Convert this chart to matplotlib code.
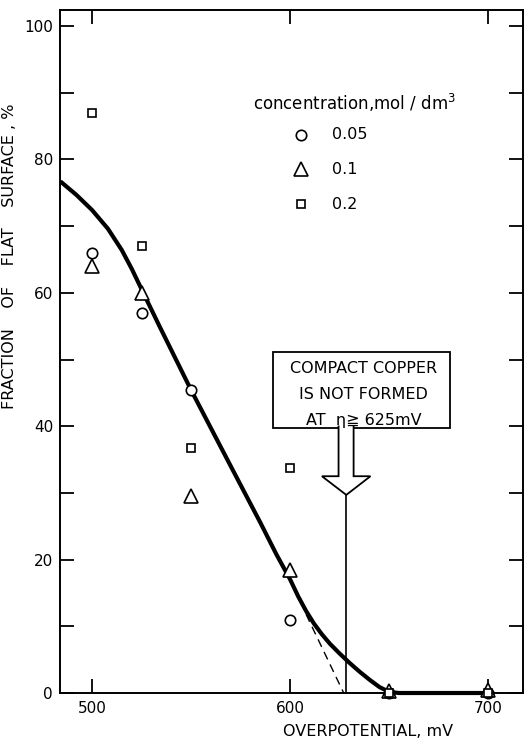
import matplotlib
matplotlib.use("Agg")
import matplotlib.pyplot as plt
from matplotlib.patches import Rectangle, Polygon

# ---- data ----
overpotential = [500, 525, 550, 600, 650, 700]
frac_005 = [66, 57, 45.5, 11, 0, 0]
frac_01 = [64, 60, 29.5, 18.5, 0.3, 0.5]
frac_02 = [87, 67, 36.7, 33.7, 0, 0]

curve_x = [484, 492, 500, 508, 515, 520, 526, 534, 550, 570, 585, 593, 600, 604, 608,
           612, 616, 620, 625, 630, 635, 640, 645, 650, 655, 703]
curve_y = [76.7, 74.7, 72.4, 69.6, 66.4, 63.6, 59.9, 55.0, 45.4, 34.0, 25.5, 20.8, 17.0, 14.5, 12.3,
           10.4, 8.8, 7.4, 5.9, 4.5, 3.2, 2.0, 0.9, 0.15, 0, 0]

dash_x = [608, 627]
dash_y = [11.8, 0]

legend_labels = ["0.05", "0.1", "0.2"]
legend_title = "concentration,mol / dm$^3$"
box_lines = ["COMPACT COPPER", "IS NOT FORMED", "AT  \u03b7\u2267 625mV"]

plt.rcParams['font.family'] = ['DejaVu Sans']
plt.rcParams['mathtext.fontset'] = 'dejavusans'

fig = plt.figure(figsize=(5.27, 7.40), dpi=100)
ax = fig.add_axes([60/527, 1-693/740, (523-60)/527, (693-10)/740])
ax.set_xlim(483.8, 717.5)
ax.set_ylim(0, 102.4)

# curve
ax.plot(curve_x, curve_y, color='black', lw=3.0, solid_capstyle='butt',
        solid_joinstyle='round', zorder=3, clip_on=False)
ax.plot(dash_x, dash_y, color='black', lw=1.0, ls=(0, (6, 4)), zorder=2)

mk = dict(mfc='white', mec='black', mew=1.2, ls='none', zorder=5, clip_on=False)
ax.plot(overpotential, frac_005, marker='o', ms=7.5, **mk)
ax.plot(overpotential, frac_01, marker='^', ms=10, **mk)
ax.plot(overpotential, frac_02, marker='s', ms=6, **mk)

# legend (manual)
ax.text(581, 88.4, legend_title, fontsize=12, va='center', ha='left')
for i, (m, s) in enumerate([('o', 7.5), ('^', 10), ('s', 6)]):
    yy = 83.7 - 5.2 * i
    ax.plot([605.5], [yy], marker=m, ms=s, **mk)
    ax.text(621, yy, legend_labels[i], fontsize=11.5, va='center', ha='left')

# box
ax.add_patch(Rectangle((591.5, 39.7), 89, 11.4, facecolor='white', edgecolor='black', lw=1.3, zorder=4))
for i, t in enumerate(box_lines):
    ax.text(637, 48.6 - 3.85 * i, t, fontsize=11.5, ha='center', va='center', zorder=7)

# arrow
arrow_pts = [(624.4, 40.1), (624.4, 32.5), (616, 32.5), (628.3, 29.7),
             (640.5, 32.5), (632, 32.5), (632, 40.1)]
ax.add_patch(Polygon(arrow_pts, closed=False, facecolor='white', edgecolor='black', lw=1.3, zorder=5))
ax.plot([628.3, 628.3], [29.7, 0], color='black', lw=1.2, zorder=2)

# axes styling
for sp in ax.spines.values():
    sp.set_linewidth(1.4)
ax.set_xticks([500, 600, 700])
ax.set_xticklabels(['500', '600', '700'])
ax.set_yticks([0, 20, 40, 60, 80, 100])
ax.set_yticks([10, 30, 50, 70, 90], minor=True)
ax.tick_params(axis='both', which='both', direction='in', width=1.3, labelsize=11)
ax.tick_params(axis='x', which='major', length=10, top=True, pad=6)
ax.tick_params(axis='y', which='both', length=10, right=True, pad=5)

ax.set_xlabel("OVERPOTENTIAL, mV", fontsize=11.5)
ax.xaxis.set_label_coords(0.665, -0.045)
ax.set_ylabel("FRACTION    OF    FLAT    SURFACE , %", fontsize=11.5)
ax.yaxis.set_label_coords(-0.092, 0.64)

fig.savefig("out.png", dpi=100)
